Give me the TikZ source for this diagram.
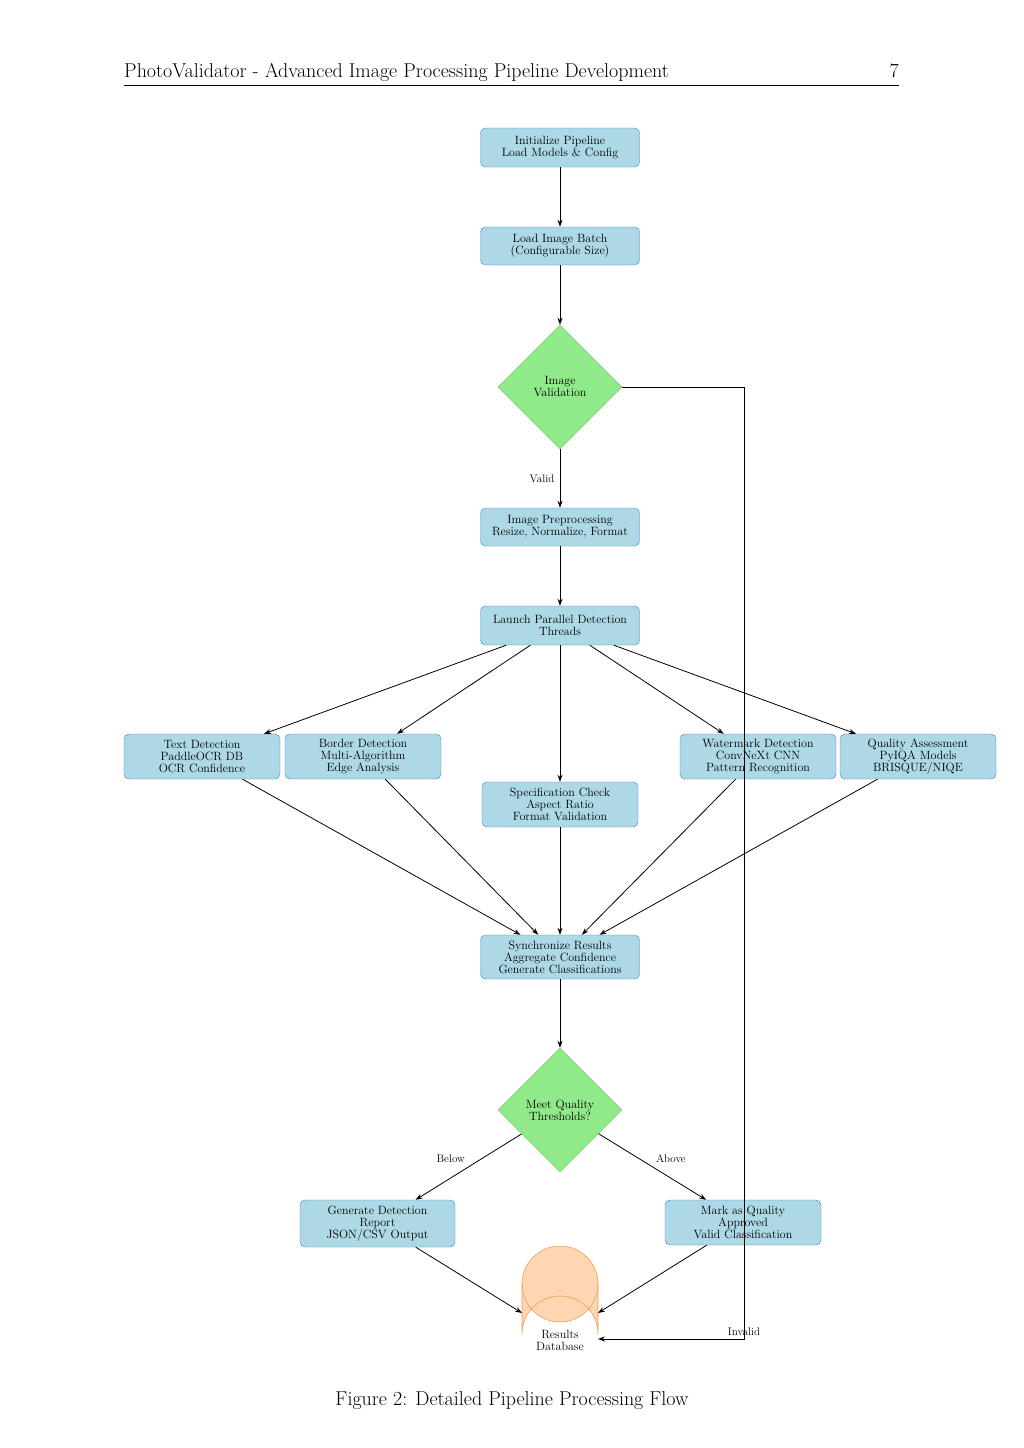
\documentclass[tikz,border=0pt]{standalone}
\usetikzlibrary{shapes.geometric,arrows.meta}
\definecolor{bfill}{RGB}{173,216,230}
\definecolor{bdraw}{RGB}{60,130,200}
\definecolor{gfill}{RGB}{144,234,138}
\definecolor{gdraw}{RGB}{110,190,100}
\definecolor{ofill}{RGB}{253,214,180}
\definecolor{odraw}{RGB}{240,160,80}
\begin{document}
\begin{tikzpicture}[x=1pt,y=-1pt,
  box/.style={draw=bdraw,fill=bfill,rounded corners=5pt,align=center,minimum width=156pt,inner sep=2pt,font=\fontsize{12}{12}\selectfont},
  dia/.style={diamond,draw=gdraw,fill=gfill,aspect=1,minimum width=124pt,minimum height=124pt,inner sep=0pt,align=center,font=\fontsize{12}{12}\selectfont},
  arr/.style={-{Stealth[length=7pt,width=5pt]},line width=0.8pt},
  lab/.style={font=\fontsize{11}{11}\selectfont}]
\useasboundingbox (0,0) rectangle (1024,1448);
% header
\node[anchor=base west,font=\fontsize{20}{20}\selectfont,inner sep=0] (hd) at (124,77) {PhotoValidator - Advanced Image Processing Pipeline Development};
\node[anchor=base east,font=\fontsize{20}{20}\selectfont,inner sep=0] (pg) at (899,77) {7};
\draw[line width=0.6pt] (124,85) -- (899,85);
% nodes
\node[box,minimum width=159pt,minimum height=39pt] (init) at (560,147.5) {Initialize Pipeline\\Load Models \& Config};
\node[box,minimum width=159pt,minimum height=38pt] (load) at (560,246) {Load Image Batch\\(Configurable Size)};
\node[dia] (val) at (560,387) {Image\\Validation};
\node[box,minimum width=159pt,minimum height=38pt] (pre) at (560,527) {Image Preprocessing\\Resize, Normalize, Format};
\node[box,minimum width=159pt,minimum height=39pt] (launch) at (560,625.5) {Launch Parallel Detection\\Threads};
\node[box,minimum height=45pt] (text) at (202,756.5) {Text Detection\\PaddleOCR DB\\OCR Confidence};
\node[box,minimum height=45pt] (border) at (363,756.5) {Border Detection\\Multi-Algorithm\\Edge Analysis};
\node[box,minimum height=45pt] (spec) at (560,804.5) {Specification Check\\Aspect Ratio\\Format Validation};
\node[box,minimum height=45pt] (wm) at (758,756.5) {Watermark Detection\\ConvNeXt CNN\\Pattern Recognition};
\node[box,minimum height=45pt] (qa) at (918,756.5) {Quality Assessment\\PyIQA Models\\BRISQUE/NIQE};
\node[box,minimum width=159pt,minimum height=44pt] (sync) at (560,957) {Synchronize Results\\Aggregate Confidence\\Generate Classifications};
\node[dia] (thr) at (560,1110) {Meet Quality\\Thresholds?};
\node[box,minimum width=155pt,minimum height=47pt] (rep) at (377.5,1223.5) {Generate Detection\\Report\\JSON/CSV Output};
\node[box,minimum height=45pt] (mark) at (743,1222.5) {Mark as Quality\\Approved\\Valid Classification};
% database cylinder
\fill[ofill] (522,1284) arc[start angle=180,end angle=360,x radius=38,y radius=-38] -- (598,1334) arc[start angle=0,end angle=180,x radius=38,y radius=-38] -- cycle;
\fill[ofill] (560,1284) ellipse[x radius=38,y radius=38];
\draw[odraw,line width=0.6pt] (560,1284) ellipse[x radius=38,y radius=38];
\draw[odraw,line width=0.6pt] (522,1284) -- (522,1334) arc[start angle=180,end angle=0,x radius=38,y radius=-38] -- (598,1284);
\node[align=center,font=\fontsize{12}{12}\selectfont,minimum width=76pt,minimum height=126pt,inner sep=0] (db) at (560,1309) {};
\node[align=center,font=\fontsize{12}{12}\selectfont] (dbt) at (560,1340) {Results\\Database};
\coordinate (dbl) at (522,1313);
\coordinate (dbr) at (598,1313);
\coordinate (dbi) at (598,1339);
% arrows
\draw[arr] (init) -- (load);
\draw[arr] (load) -- (val);
\draw[arr] (val) -- node[lab,left,pos=0.5,xshift=-2pt]{Valid} (pre);
\draw[arr] (pre) -- (launch);
\foreach \n in {text,border,spec,wm,qa}{
  \draw[arr] (launch) -- (\n);
  \draw[arr] (\n) -- (sync);
}
\draw[arr] (sync) -- (thr);
\draw[arr] (thr) -- node[lab,pos=0.5,above left]{Below} (rep);
\draw[arr] (thr) -- node[lab,pos=0.5,above right]{Above} (mark);
\draw[arr] (rep) -- (dbl);
\draw[arr] (mark) -- (dbr);
\draw[arr] (val.east) -- (744,387) -- (744,1339) node[lab,above,pos=1,xshift=0pt]{Invalid} -- (dbi);
% caption
\node[font=\fontsize{20}{20}\selectfont] (cap) at (512,1401) {Figure 2: Detailed Pipeline Processing Flow};
\end{tikzpicture}
\end{document}
